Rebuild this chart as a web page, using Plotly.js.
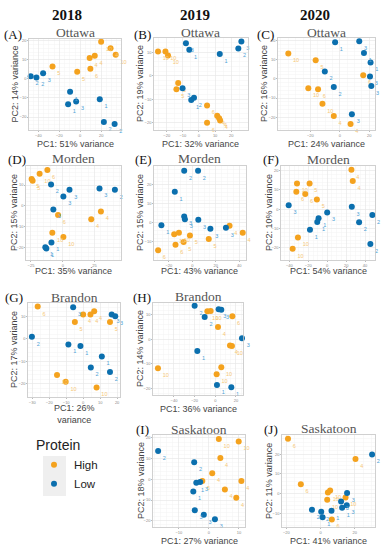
<!DOCTYPE html>
<html><head><meta charset="utf-8">
<script src="https://cdn.plot.ly/plotly-3.0.1.min.js"></script>
<style>html,body{margin:0;padding:0;background:#fff}#chart{width:386px;height:550px}</style>
</head><body><div id="chart"></div>
<script>
// ---- data ----
const A_hi_x=[-26.5,-2.9,9.0,13.9,9.7,20,29,33.9];
const A_hi_y=[6.5,3.7,10.9,12.1,5.3,19.5,16.0,12.6];
const A_hi_lab=['5','5','4','4','6','10','4','10'];
const A_lo_x=[-47.4,-41.9,-35.5,-9.7,-11.6,-3.9,18.7,22.6,32.9];
const A_lo_y=[1.4,0.7,3.0,-6.7,-13.3,-11.9,-10.7,-22.6,-23.7];
const A_lo_lab=['2','2','3','1','1','3','1','2','2'];

const B_hi_x=[-25.4,-20.8,-19.2,-12.9,-14,5,5,11.3,12.5,13.1];
const B_hi_y=[10.4,10.4,8.6,-3.1,-5.7,-12.7,-20,-17,-18.1,-19.1];
const B_hi_lab=['10','10','10','5','5','6','6','4','4','4'];
const B_lo_x=[-8.1,-6.0,12.9,24.4,26.3,-10.2,-4.8,-3.1];
const B_lo_y=[13.9,11.1,9.3,11.6,14.6,-5.3,-10.3,-9.4];
const B_lo_lab=['3','1','1','2','3','3','1','2'];

const C_hi_x=[-35,-16.4,15.9,-21.4,-14.8,-11.8,-4.1,7.3];
const C_hi_y=[13.2,9.6,1.9,-4.9,-5.4,-13.0,-19.3,-23.5];
const C_hi_lab=['10','5','6','10','6','10','4','4'];
const C_lo_x=[-3.2,13.2,16.4,20.9,-10.2,20.5,21.4,-4.1,8.2];
const C_lo_y=[19.0,19.5,13.4,8.5,3.8,1.2,-3.7,-4.3,-18.4];
const C_lo_lab=['1','3','1','1','2','3','3','2','3'];

const D_hi_x=[-24.5,-23.7,-18.2,-12.1,-3.7,30,22.4,-8.2,0.5];
const D_hi_y=[12.9,12.0,15.4,17.2,-4.3,-2.6,-6.3,-12.8,-14.8];
const D_hi_lab=['5','5','10','6','6','4','4','10','10'];
const D_lo_x=[-9.2,5.3,0.5,28.9,41,-7.4,-8.9,-13.7,-12.9];
const D_lo_y=[10.3,7.8,4.5,8.3,7.8,-1.7,-17.4,-19.7,-20.3];
const D_lo_lab=['2','3','3','3','2','3','1','1','1'];

const E_hi_x=[31.7,42.9,-15.4,-11.4,-2,-7.4,-14.3,14,-29.1];
const E_hi_y=[-1.4,-5.1,-5.9,-5.1,-6.6,-10,-11.5,-8.5,-14.4];
const E_hi_lab=['4','4','10','10','5','5','6','5','6'];
const E_lo_x=[-6.9,4.9,-14.9,-6.9,-6.3,5.1,-26.3,15.4,28.6];
const E_lo_y=[27.5,27.5,16.4,3.4,2.0,1.7,-1.2,-3.1,-2.5];
const E_lo_lab=['2','2','1','3','3','3','1','3','3'];

const F_hi_x=[25.6,27,-31.9,-18.6,-32.6,-23.2,-10.9,-30.9,-36.5];
const F_hi_y=[20.3,14.5,13.3,13.3,9,7.8,5,-14.7,-20.5];
const F_hi_lab=['4','4','10','5','6','6','5','10','10'];
const F_lo_x=[-40.7,0,26,47.7,-9.1,-10.5,-18.2,33.7,45.6];
const F_lo_y=[2,-1.7,1.2,-3,-4.7,-6.7,-10.7,-6.8,-18];
const F_lo_lab=['3','3','3','2','1','1','1','2','2'];

const G_hi_x=[-26.8,-4.9,0,4.3,6.5,15.8,-15.4,-10.3,7.9];
const G_hi_y=[14.2,7.4,10.7,10.7,12.1,7.4,-16.1,-19,-21.6];
const G_hi_lab=['6','5','4','4','4','5','10','10','10'];
const G_lo_x=[-5.9,16.8,18.9,-30.2,-8.7,-1.6,11,4.5,15.8];
const G_lo_y=[13.9,10.7,9.9,0.9,-2.6,-3.2,-7.9,-12.7,-14.7];
const G_lo_lab=['3','3','3','2','1','1','1','2','2'];

const H_hi_x=[-7.7,-4.5,16.5,2.6,14.2,16.1,-55.5,5.8,1.3];
const H_hi_y=[11.5,11.6,9.5,5.1,-2.5,-2.7,-11.8,-11.4,-14.2];
const H_hi_lab=['10','10','6','4','4','10','10','10','10'];
const H_lo_x=[-20,-10.3,3.2,5.8,25.8,-17.4,1.6,15.5];
const H_lo_y=[13.8,9.2,12.3,12.1,0.5,-4.7,-18.6,-19.5];
const H_lo_lab=['2','2','3','3','3','1','1','1'];

const I_hi_x=[3.3,9.9,3.8,1.1,-2.2,10.8,5.3,9.1];
const I_hi_y=[19.5,18.3,10.3,2.9,-0.8,-0.8,-4.9,-8.9];
const I_hi_lab=['10','10','4','4','5','4','4','4'];
const I_lo_x=[-16.9,-4.9,-4.2,-2.9,-5.2,-4.7,-1.7,2];
const I_lo_y=[13.7,8.3,-1.7,-1.3,-5.9,-14.9,-17.1,-19.2];
const I_lo_lab=['2','2','1','3','1','3','3','3'];

const J_hi_x=[-19,20.4,-11.5,4.3,5.6,3.9,14.6,6.6];
const J_hi_y=[27.8,17.5,4.7,0.5,1.5,-3.2,-2,-13.2];
const J_hi_lab=['6','4','6','10','10','10','10','6'];
const J_lo_x=[30.1,15.5,12,12.6,15.3,-5,0.4,6.4,1.2];
const J_lo_y=[19.8,0.2,-4,-7.2,-6,-8.2,-9.3,-8.7,-12];
const J_lo_lab=['2','3','3','1','3','2','2','1','1'];

const panelLetters=['A','B','C','D','E','F','G','H','I','J'];
const locations=['Ottawa','Ottawa','Ottawa','Morden','Morden','Morden','Brandon','Brandon','Saskatoon','Saskatoon'];
const pc1Labels=['PC1: 51% variance','PC1: 32% variance','PC1: 24% variance','PC1: 35% variance','PC1: 43% variance','PC1: 54% variance','PC1: 26%<br>variance','PC1: 36% variance','PC1: 27% variance','PC1: 41% variance'];
const pc2Labels=['PC2: 14% variance','PC2: 19% variance','PC2: 16% variance','PC2: 15% variance','PC2: 15% variance','PC2: 10% variance','PC2: 17% variance','PC2: 14% variance','PC2: 18% variance','PC2: 11% variance'];
const years=['2018','2019','2020'];
const groups=['High','Low'];
const xTicks=[[-40,-20,0,20],[-20,-10,0,10,20],[-20,0,20],[-25,0,25],[-20,0,20,40],[-40,-20,0,20,40],[-30,-20,-10,0,10,20],[-40,-20,0,20],[-10,0,10],[-20,0,20]];
const yTicks=[[-20,-10,0,10,20],[-20,-10,0,10],[-20,-10,0,10,20],[-20,-10,0,10],[-10,0,10,20],[-20,-10,0,10,20],[-20,-10,0,10],[-20,-10,0,10],[-20,-10,0,10,20],[-10,0,10,20]];

// ---- layout geometry (pixels) ----
const W=386,H=550;
const boxes=[ // [left,right,top,bottom]
 [29,121,39,130],[154,248,38,130],[278,375,38,130],
 [26,121,166,260],[154,246,166,260],[281,375,166,260],
 [28,120,303,397],[153,243,303,395],
 [153,245,435,527],[282,375,435,527]];
const xRanges=[[-49,39],[-27.9,30.4],[-42,23.9],[-28.9,45.8],[-32.6,45.7],[-48.8,50.5],[-32.5,21.7],[-60.3,26.8],[-18.6,12],[-22.5,31.8]];
const yRanges=[[-26.8,20.9],[-23.1,16.1],[-26.6,21.2],[-25.8,19.1],[-19.5,30],[-26.3,22.3],[-25.8,15.8],[-22.7,14.9],[-23,21.4],[-17,29.7]];
const labPos=[[13,35],[142,35],[265,35],[17,159],[143,159],[271,159],[14,297],[142,297],[142,429],[271,429]];
const locY=[32,32,32,158,158,159,297,296,429,428];
const pc1Y=[144,144,144,271,271,271,414,409,541,541];
const pc2X=[15,140,264,14,140,269,14,140,141,269];
const yearX=[67,195,315];

const HI='#F4A21E', LO='#0B6FAE', HI_T='#F6C878', LO_T='#4EA2D6';
const data={};
panelLetters.forEach(L=>{data[L]={hx:eval(L+'_hi_x'),hy:eval(L+'_hi_y'),hl:eval(L+'_hi_lab'),lx:eval(L+'_lo_x'),ly:eval(L+'_lo_y'),ll:eval(L+'_lo_lab')};});

const traces=[];const layout={width:W,height:H,margin:{l:0,r:0,t:0,b:0},paper_bgcolor:'#fff',plot_bgcolor:'#fff',
 font:{family:'Liberation Sans, Arial, sans-serif',color:'#444'},annotations:[],shapes:[],
 showlegend:true,
 legend:{x:34/W,y:1-432/H,xanchor:'left',yanchor:'top',bgcolor:'rgba(0,0,0,0)',
   title:{text:'Protein',font:{size:14,color:'#222'}},font:{size:11.5,color:'#222'},itemwidth:30,tracegroupgap:0}};

panelLetters.forEach((L,i)=>{
  const n=i+1, xs=n===1?'':n, d=data[L], b=boxes[i];
  const common={type:'scatter',mode:'markers+text',textposition:'bottom right',cliponaxis:false,
    xaxis:'x'+xs,yaxis:'y'+xs,hoverinfo:'skip'};
  traces.push(Object.assign({},common,{x:d.hx,y:d.hy,text:d.hl,name:groups[0],legendgroup:'h',showlegend:i===0,
    marker:{color:HI,size:6},textfont:{size:5.5,color:HI_T}}));
  traces.push(Object.assign({},common,{x:d.lx,y:d.ly,text:d.ll,name:groups[1],legendgroup:'l',showlegend:i===0,
    marker:{color:LO,size:6},textfont:{size:5.5,color:LO_T}}));
  const axc={showline:true,mirror:true,linecolor:'#c4c4c4',linewidth:0.8,showgrid:true,gridcolor:'#e8e8e8',gridwidth:0.6,
    zeroline:false,ticks:'outside',ticklen:1,tickcolor:'#bbb',tickfont:{size:4,color:'#888'},
    minor:{showgrid:true,gridcolor:'#f4f4f4',gridwidth:0.5}};
  layout['xaxis'+xs]=Object.assign({},axc,{domain:[b[0]/W,b[1]/W],range:xRanges[i],tickvals:xTicks[i],anchor:'y'+xs});
  layout['yaxis'+xs]=Object.assign({},axc,{domain:[1-b[3]/H,1-b[2]/H],range:yRanges[i],tickvals:yTicks[i],anchor:'x'+xs});
  const cx=(b[0]+b[1])/2/W, cy=1-(b[2]+b[3])/2/H;
  layout.annotations.push({xref:'paper',yref:'paper',x:cx,y:1-locY[i]/H,text:locations[i],showarrow:false,
    font:{family:'Liberation Serif, serif',size:13.5,color:'#555'},xanchor:'center',yanchor:'middle'});
  layout.annotations.push({xref:'paper',yref:'paper',x:labPos[i][0]/W,y:1-labPos[i][1]/H,text:'('+L+')',showarrow:false,
    font:{family:'Liberation Serif, serif',size:13,color:'#111'},xanchor:'center',yanchor:'middle'});
  layout.annotations.push({xref:'paper',yref:'paper',x:cx,y:1-pc1Y[i]/H,text:pc1Labels[i],showarrow:false,
    font:{size:9,color:'#444'},xanchor:'center',yanchor:'middle'});
  layout.annotations.push({xref:'paper',yref:'paper',x:pc2X[i]/W,y:cy,text:pc2Labels[i],showarrow:false,textangle:-90,
    font:{size:9,color:'#444'},xanchor:'center',yanchor:'middle'});
});
years.forEach((y,k)=>layout.annotations.push({xref:'paper',yref:'paper',x:yearX[k]/W,y:1-15/H,text:'<b>'+y+'</b>',showarrow:false,
  font:{family:'Liberation Serif, serif',size:15,color:'#111'},xanchor:'center',yanchor:'middle'}));
layout.shapes.push({type:'rect',xref:'paper',yref:'paper',x0:43/W,x1:66/W,y0:1-496/H,y1:1-456/H,fillcolor:'#efefef',line:{width:0},layer:'below'});

Plotly.newPlot('chart',traces,layout,{staticPlot:true,displayModeBar:false});
</script></body></html>
